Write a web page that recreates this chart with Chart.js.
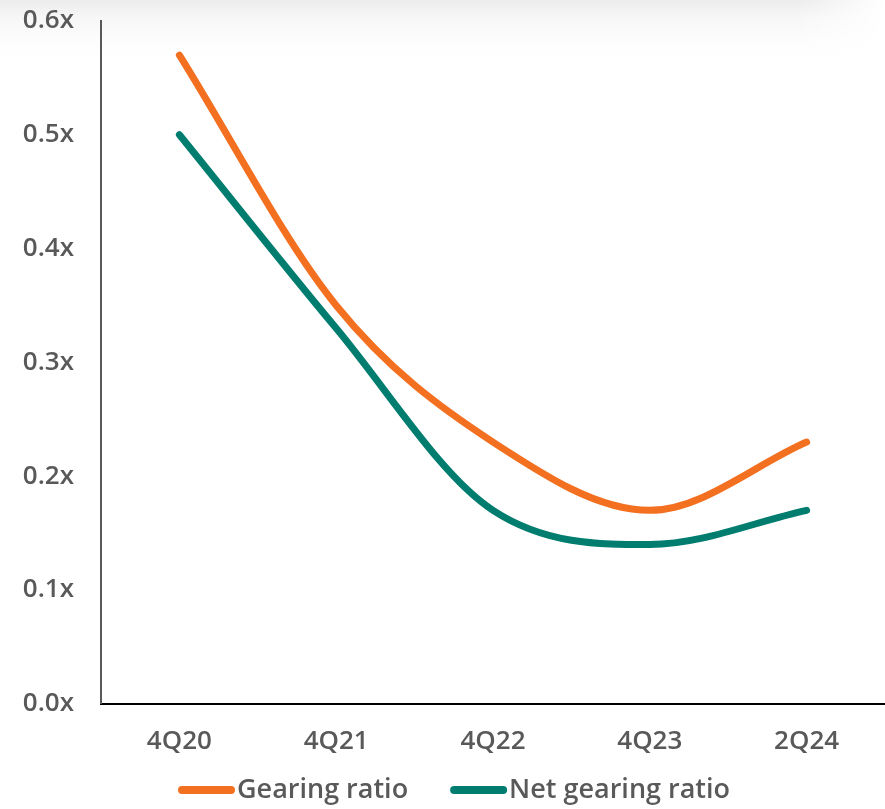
<!DOCTYPE html>
<html>
<head>
<meta charset="utf-8">
<script src="https://cdn.jsdelivr.net/npm/chart.js@4.4.1/dist/chart.umd.min.js"></script>
<style>
  html, body { margin: 0; padding: 0; background: #fff; }
  #wrap { position: relative; width: 885px; height: 809px; }
  #shade {
    position: absolute; left: 0; top: 0; width: 885px; height: 60px;
    background: linear-gradient(to bottom, #ececec 0%, #f7f7f7 30%, #fdfdfd 70%, #ffffff 100%);
    -webkit-mask-image: linear-gradient(to right, #000 0%, #000 90%, transparent 100%);
    mask-image: linear-gradient(to right, #000 0%, #000 90%, transparent 100%);
  }
  canvas { position: relative; }
</style>
</head>
<body>
<div id="wrap">
  <div id="shade"></div>
  <canvas id="gearing" width="885" height="809"></canvas>
</div>
<script>
const categories = ["4Q20", "4Q21", "4Q22", "4Q23", "2Q24"];
const gearingRatio = [0.57, 0.35, 0.23, 0.17, 0.23];
const netGearingRatio = [0.50, 0.33, 0.17, 0.14, 0.17];
const yTicks = [0, 0.1, 0.2, 0.3, 0.4, 0.5, 0.6];

const textColor = "#595959";
const fontFam = "'Open Sans', sans-serif";
const tickFont = { family: fontFam, size: 26, weight: 600 };

// legend drawn by hand: line marker sits right against its label
const lineLegend = {
  id: 'lineLegend',
  afterDraw(chart) {
    const ctx = chart.ctx;
    const y = 790;
    const mark = 57, gap = 4, between = 40;
    ctx.save();
    ctx.font = "600 27px 'Open Sans', sans-serif";
    ctx.textBaseline = 'middle';
    const items = chart.data.datasets.map(ds => ({
      ds, w: ctx.measureText(ds.label).width
    }));
    const total = items.reduce((s, it) => s + mark + gap + it.w, 0) + between * (items.length - 1);
    let x = 455 - total / 2;
    items.forEach(it => {
      ctx.strokeStyle = it.ds.borderColor;
      ctx.lineWidth = 8;
      ctx.lineCap = 'round';
      ctx.beginPath();
      ctx.moveTo(x + 4, y);
      ctx.lineTo(x + mark - 4, y);
      ctx.stroke();
      ctx.fillStyle = textColor;
      ctx.fillText(it.ds.label, x + mark + gap - 2, y);
      x += mark + gap + it.w + between;
    });
    ctx.restore();
  }
};

new Chart(document.getElementById("gearing"), {
  type: 'line',
  data: {
    labels: categories,
    datasets: [
      {
        label: "Gearing ratio",
        data: gearingRatio,
        borderColor: "#F37021",
        backgroundColor: "#F37021",
        borderWidth: 7,
        borderCapStyle: 'round',
        pointRadius: 0,
        cubicInterpolationMode: 'monotone'
      },
      {
        label: "Net gearing ratio",
        data: netGearingRatio,
        borderColor: "#007D6E",
        backgroundColor: "#007D6E",
        borderWidth: 7,
        borderCapStyle: 'round',
        pointRadius: 0,
        cubicInterpolationMode: 'monotone'
      }
    ]
  },
  options: {
    responsive: false,
    animation: false,
    layout: { padding: { top: 0, right: 0, left: 0, bottom: 30 } },
    plugins: {
      tooltip: { enabled: false },
      legend: { display: false }
    },
    scales: {
      x: {
        offset: true,
        grid: { display: false, drawTicks: false },
        border: { display: true, color: "#000", width: 2 },
        ticks: { color: textColor, padding: 22, font: tickFont }
      },
      y: {
        min: 0,
        max: 0.6,
        afterBuildTicks(axis) { axis.ticks = yTicks.map(v => ({ value: v })); },
        afterFit(scale) {
          scale.width = 101;
          scale.paddingTop = 21;
          scale.paddingBottom = 16;
        },
        grid: { display: false, drawTicks: false },
        border: { display: true, color: "#595959", width: 2 },
        ticks: {
          color: textColor,
          padding: 27,
          font: tickFont,
          callback: v => v.toFixed(1) + "x"
        }
      }
    }
  },
  plugins: [lineLegend]
});
</script>
</body>
</html>
